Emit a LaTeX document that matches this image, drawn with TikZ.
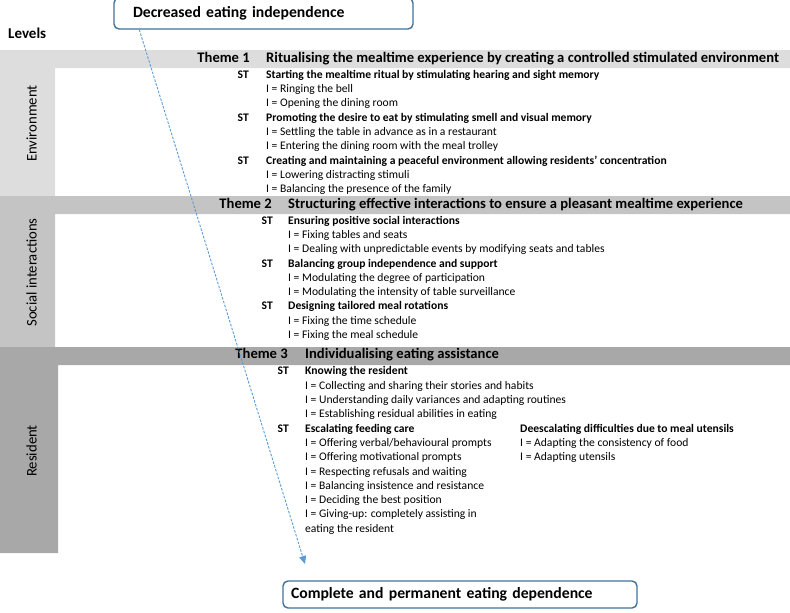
\documentclass[tikz,border=0pt]{standalone}
\usepackage{fontspec}
\setmainfont{Carlito}
\usetikzlibrary{arrows.meta}
\definecolor{envgray}{HTML}{DDDDDD}
\definecolor{socgray}{HTML}{C4C4C4}
\definecolor{resgray}{HTML}{A8A8A8}
\definecolor{boxblue}{HTML}{41719C}
\definecolor{arrblue}{HTML}{5B9BD5}
\begin{document}
\begin{tikzpicture}[x=1pt,y=-1pt,
  txt/.style={inner sep=0pt, text height=0.65em, text depth=0.15em, text=black},
  lvl/.style={txt, rotate=90, font=\fontsize{14.7}{17}\selectfont},
  thm/.style={txt, font=\fontsize{14.6}{17}\selectfont\bfseries},
  stl/.style={txt, font=\fontsize{11.6}{14}\selectfont\bfseries},
  itl/.style={txt, font=\fontsize{11.6}{14}\selectfont},
  endbox/.style={draw=boxblue, line width=1.4pt, rounded corners=5pt, fill=white, align=left, inner ysep=0pt, font=\fontsize{15.7}{19}\selectfont\bfseries},
  flow/.style={draw=arrblue, line width=0.9pt, dash pattern=on 2.5pt off 1.5pt, -{Triangle[length=8pt,width=7pt]}}
]
\clip (0,0) rectangle (790,613);
% level bands
\fill[envgray] (0,50) rectangle (790,68) (0,68) rectangle (55,196);
\fill[socgray] (0,196) rectangle (790,214) (0,214) rectangle (55,347);
\fill[resgray] (0,347) rectangle (790,365) (0,365) rectangle (58,553);

\node[txt, anchor=west, font=\fontsize{15}{18}\selectfont\bfseries] (levels) at (8,36) {Levels};
\node[lvl] (lenv) at (34,123.5) {Environment};
\node[lvl] (lsoc) at (34,272.5) {Social interactions};
\node[lvl] (lres) at (34,451) {Resident};

% Theme 1
\node[thm, anchor=east] (th1) at (250,60) {Theme 1};
\node[thm, anchor=west] (th1t) at (266,60) {Ritualising the mealtime experience by creating a controlled stimulated environment};
\node[stl, anchor=east] (s11l) at (249,76) {ST};
\node[stl, anchor=west] (s11) at (266,76) {Starting the mealtime ritual by stimulating hearing and sight memory};
\node[itl, anchor=west] (i111) at (266,90) {I = Ringing the bell};
\node[itl, anchor=west] (i112) at (266,104) {I = Opening the dining room};
\node[stl, anchor=east] (s12l) at (249,119) {ST};
\node[stl, anchor=west] (s12) at (266,119) {Promoting the desire to eat by stimulating smell and visual memory};
\node[itl, anchor=west] (i121) at (266,133) {I = Settling the table in advance as in a restaurant};
\node[itl, anchor=west] (i122) at (266,147) {I = Entering the dining room with the meal trolley};
\node[stl, anchor=east] (s13l) at (249,162) {ST};
\node[stl, anchor=west] (s13) at (266,162) {Creating and maintaining a peaceful environment allowing residents’ concentration};
\node[itl, anchor=west] (i131) at (266,176) {I = Lowering distracting stimuli};
\node[itl, anchor=west] (i132) at (266,190) {I = Balancing the presence of the family};

% Theme 2
\node[thm, anchor=east] (th2) at (272,206) {Theme 2};
\node[thm, anchor=west] (th2t) at (288,206) {Structuring effective interactions to ensure a pleasant mealtime experience};
\node[stl, anchor=east] (s21l) at (273,222) {ST};
\node[stl, anchor=west] (s21) at (288,222) {Ensuring positive social interactions};
\node[itl, anchor=west] (i211) at (288,236) {I = Fixing tables and seats};
\node[itl, anchor=west] (i212) at (288,250) {I = Dealing with unpredictable events by modifying seats and tables};
\node[stl, anchor=east] (s22l) at (273,265) {ST};
\node[stl, anchor=west] (s22) at (288,265) {Balancing group independence and support};
\node[itl, anchor=west] (i221) at (288,279) {I = Modulating the degree of participation};
\node[itl, anchor=west] (i222) at (288,293) {I = Modulating the intensity of table surveillance};
\node[stl, anchor=east] (s23l) at (273,307) {ST};
\node[stl, anchor=west] (s23) at (288,307) {Designing tailored meal rotations};
\node[itl, anchor=west] (i231) at (288,322) {I = Fixing the time schedule};
\node[itl, anchor=west] (i232) at (288,336) {I = Fixing the meal schedule};

% Theme 3
\node[thm, anchor=east] (th3) at (288,356) {Theme 3};
\node[thm, anchor=west] (th3t) at (305,356) {Individualising eating assistance};
\node[stl, anchor=east] (s31l) at (289,372) {ST};
\node[stl, anchor=west] (s31) at (305,372) {Knowing the resident};
\node[itl, anchor=west] (i311) at (305,387) {I = Collecting and sharing their stories and habits};
\node[itl, anchor=west] (i312) at (305,401) {I = Understanding daily variances and adapting routines};
\node[itl, anchor=west] (i313) at (305,415) {I = Establishing residual abilities in eating};
\node[stl, anchor=east] (s32l) at (289,430) {ST};
\node[stl, anchor=west] (s32) at (305,430) {Escalating feeding care};
\node[itl, anchor=west] (i321) at (305,444) {I = Offering verbal/behavioural prompts};
\node[itl, anchor=west] (i322) at (305,458) {I = Offering motivational prompts};
\node[itl, anchor=west] (i323) at (305,473) {I = Respecting refusals and waiting};
\node[itl, anchor=west] (i324) at (305,487) {I = Balancing insistence and resistance};
\node[itl, anchor=west] (i325) at (305,501) {I = Deciding the best position};
\node[itl, anchor=west] (i326) at (305,515) {I = Giving-up: completely assisting in};
\node[itl, anchor=west] (i327) at (305,530) {eating the resident};
\node[stl, anchor=west] (s33) at (520,430) {Deescalating difficulties due to meal utensils};
\node[itl, anchor=west] (i331) at (520,444) {I = Adapting the consistency of food};
\node[itl, anchor=west] (i332) at (520,458) {I = Adapting utensils};

% end boxes
\node[endbox, minimum width=299pt, minimum height=31pt, text width=261pt, inner xsep=19pt] (top) at (263.5,13.5) {Decreased eating independence};
\node[endbox, minimum width=354pt, minimum height=27pt, text width=338pt, inner xsep=8pt] (bottom) at (460,594.5) {Complete and permanent eating dependence};

% flow arrow
\coordinate (aE) at (305,564);
\draw[flow] ([xshift=26pt]top.south west) -- (aE);
\end{tikzpicture}
\end{document}
